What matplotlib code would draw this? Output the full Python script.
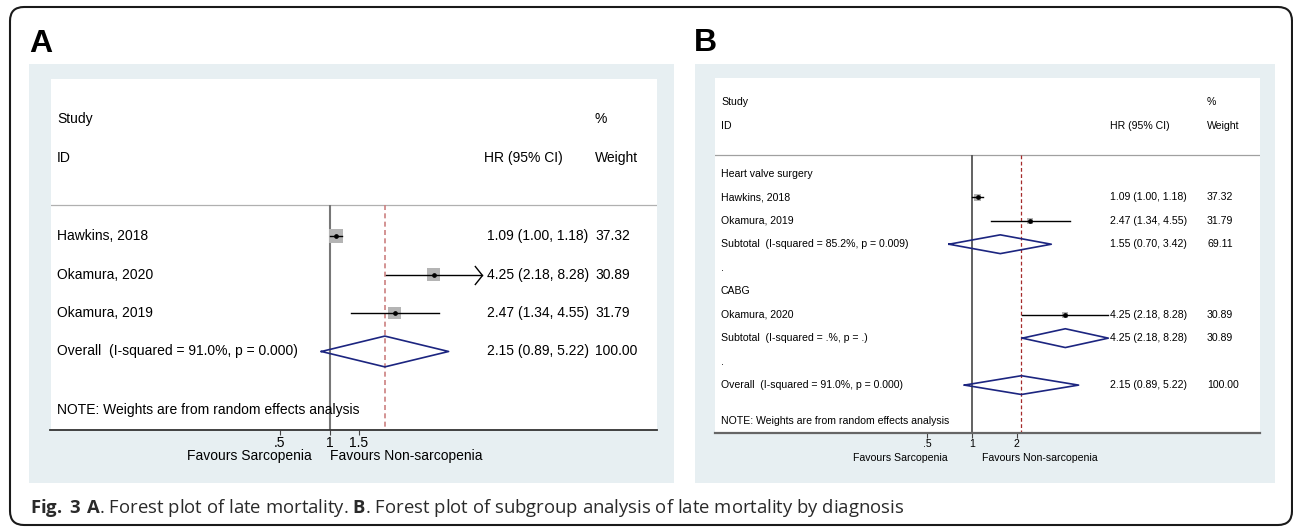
import matplotlib
matplotlib.use("Agg")
import matplotlib.pyplot as plt
import matplotlib.transforms as mtransforms
from matplotlib.patches import Rectangle, FancyBboxPatch
from matplotlib.path import Path
from matplotlib.ticker import NullLocator

plt.rcParams['font.family'] = ['Liberation Sans', 'DejaVu Sans']
plt.rcParams['mathtext.fontset'] = 'custom'
plt.rcParams['mathtext.rm'] = 'Open Sans'
plt.rcParams['mathtext.bf'] = 'Open Sans:bold'

W, H = 1293, 527

# A: late mortality
studies_a = ["Hawkins, 2018", "Okamura, 2020", "Okamura, 2019"]
hr_a = [1.09, 4.25, 2.47]
lo_a = [1.00, 2.18, 1.34]
hi_a = [1.18, 8.28, 4.55]
wt_a = [37.32, 30.89, 31.79]

# B: subgroups by diagnosis
groups_b = ["Heart valve surgery", "CABG"]
studies_b = [["Hawkins, 2018", "Okamura, 2019"], ["Okamura, 2020"]]
hr_b = [[1.09, 2.47], [4.25]]
lo_b = [[1.00, 1.34], [2.18]]
hi_b = [[1.18, 4.55], [8.28]]
wt_b = [[37.32, 31.79], [30.89]]
sub_hr = [1.55, 4.25]
sub_lo = [0.70, 2.18]
sub_hi = [3.42, 8.28]
sub_wt = [69.11, 30.89]
sub_i2 = ["85.2%", ".%"]
sub_p = ["0.009", "."]

overall_hr, overall_lo, overall_hi = 2.15, 0.89, 5.22
overall_i2, overall_p = "91.0%", "0.000"

xticks_a = [0.5, 1, 1.5]
xticklabels_a = [".5", "1", "1.5"]
xticks_b = [0.5, 1, 2]
xticklabels_b = [".5", "1", "2"]

fav_left = "Favours Sarcopenia"
fav_right = "Favours Non-sarcopenia"
note = "NOTE: Weights are from random effects analysis"
caption = (r"$\mathbf{Fig.}$ $\mathbf{3\ A}$. Forest plot of late mortality. $\mathbf{B}$. "
           "Forest plot of subgroup analysis of late mortality by diagnosis")


def px_rect(x0, y0, x1, y1):
    return [x0 / W, 1 - y1 / H, (x1 - x0) / W, (y1 - y0) / H]


def overall_row():
    label = "Overall  (I-squared = %s, p = %s)" % (overall_i2, overall_p)
    return ("pooled", label, overall_hr, overall_lo, overall_hi, 100.0)


def build_rows_a():
    rows = [("study", s, h, l, u, w) for s, h, l, u, w in zip(studies_a, hr_a, lo_a, hi_a, wt_a)]
    rows.append(overall_row())
    return rows


def build_rows_b():
    rows = []
    for g, name in enumerate(groups_b):
        rows.append(("head", name, None, None, None, None))
        for s, h, l, u, w in zip(studies_b[g], hr_b[g], lo_b[g], hi_b[g], wt_b[g]):
            rows.append(("study", s, h, l, u, w))
        label = "Subtotal  (I-squared = %s, p = %s)" % (sub_i2[g], sub_p[g])
        rows.append(("pooled", label, sub_hr[g], sub_lo[g], sub_hi[g], sub_wt[g]))
        rows.append(("dot", ".", None, None, None, None))
    rows.append(overall_row())
    return rows


chevron = Path([(-0.8, 1), (0, 0), (-0.8, -1)], [Path.MOVETO, Path.LINETO, Path.LINETO])


def forest(ax, rows, xlim, xticks, xticklabels, st):
    n = len(rows)
    ax.set_xscale('log')
    ax.set_xlim(*xlim)
    ax.set_ylim(n + 1.04, -4.08)
    ax.set_facecolor('white')
    for side in ['top', 'left', 'right']:
        ax.spines[side].set_visible(False)
    ax.spines['bottom'].set_color(st['axis_color'])
    ax.spines['bottom'].set_linewidth(st['axis_lw'])
    ax.set_yticks([])
    ax.set_xticks(xticks)
    ax.set_xticklabels(xticklabels)
    ax.xaxis.set_minor_locator(NullLocator())
    ax.tick_params(axis='x', labelsize=st['fs'], length=3.6, width=0.8,
                   color='#444444', pad=0.5)

    fs = st['fs']
    c_lab, c_hrh, c_hr, c_wt = st['cols']
    tr = mtransforms.blended_transform_factory(ax.transAxes, ax.transData)

    # header
    ax.text(c_lab, -3.05, "Study", transform=tr, fontsize=fs, va='center')
    ax.text(c_lab, -2.02, "ID", transform=tr, fontsize=fs, va='center')
    ax.text(c_wt, -3.05, "%", transform=tr, fontsize=fs, va='center')
    ax.text(c_hrh, -2.02, "HR (95% CI)", transform=tr, fontsize=fs, va='center')
    ax.text(c_wt, -2.02, "Weight", transform=tr, fontsize=fs, va='center')
    ax.axhline(-0.8, color=st['sep_color'], lw=0.9)

    bottom = n + 1.04
    ax.vlines(1, -0.8, bottom, color=st['null_color'], lw=st['null_lw'], zorder=2)
    ax.vlines(overall_hr, -0.8, bottom, color=st['dash_color'], lw=st['dash_lw'],
              linestyles=(0, (3, 2)), zorder=2)

    for i, (kind, label, h, l, u, w) in enumerate(rows):
        ax.text(c_lab, i, label, transform=tr, fontsize=fs, va='center')
        if kind == "study":
            ax.scatter([h], [i], marker='s', s=st['box_k'] * w, color='#b4b4b4',
                       edgecolor='none', zorder=3)
            ax.plot([l, u], [i, i], color='black', lw=1.0, zorder=4)
            ax.plot([h], [i], 'o', ms=2.4, color='black', zorder=5)
            if st['clip'] is not None and u > st['clip']:
                ax.plot([u], [i], marker=chevron, ms=13.7, mfc='none', mec='black',
                        mew=1.0, zorder=4)
        if kind == "pooled":
            ax.plot([l, h, u, h, l], [i, i - 0.4, i, i + 0.4, i], color='#1c2580',
                    lw=1.2, zorder=4)
        if kind in ("study", "pooled"):
            ax.text(c_hr, i, "%.2f (%.2f, %.2f)" % (h, l, u), transform=tr,
                    fontsize=fs, va='center')
            ax.text(c_wt, i, "%.2f" % w, transform=tr, fontsize=fs, va='center')

    ax.text(c_lab, n + 0.53, note, transform=tr, fontsize=fs, va='center')

    trf = mtransforms.blended_transform_factory(ax.transData, ax.transAxes)
    ax.text(st['fav_x'][0], st['fav_y'], fav_left, transform=trf, fontsize=fs,
            ha='right', va='center')
    ax.text(st['fav_x'][1], st['fav_y'], fav_right, transform=trf, fontsize=fs,
            ha='left', va='center')


fig = plt.figure(figsize=(W / 100, H / 100), dpi=100)

# outer frame
fig.patches.append(FancyBboxPatch((0.10, 0.02), 12.82, 5.18,
                                  boxstyle="round,pad=0,rounding_size=0.14",
                                  transform=fig.dpi_scale_trans, fill=False,
                                  edgecolor='#1a1a1a', lw=1.5, zorder=-1))

# panel backgrounds
bg = '#e7eff2'
for x0, x1 in [(29, 674), (695, 1275)]:
    r = px_rect(x0, 64, x1, 483)
    fig.patches.append(Rectangle((r[0], r[1]), r[2], r[3], transform=fig.transFigure,
                                 facecolor=bg, edgecolor='none', zorder=-2))

fig.text(29 / W, 1 - 44 / H, "A", fontsize=23, fontweight='bold', va='center')
fig.text(694 / W, 1 - 43 / H, "B", fontsize=23, fontweight='bold', va='center')

ax_a = fig.add_axes(px_rect(50.5, 79, 656.5, 430))
forest(ax_a, build_rows_a(), (0.02055, 94.1), xticks_a, xticklabels_a, {
    'fs': 10, 'cols': (0.0107, 0.7153, 0.7203, 0.8985), 'box_k': 2.72,
    'clip': 8.0, 'axis_color': '#333333', 'axis_lw': 1.3, 'sep_color': '#b0b0b0',
    'null_color': '#777777', 'null_lw': 1.5, 'dash_color': '#cc8080', 'dash_lw': 1.2,
    'fav_x': (0.777, 1.0), 'fav_y': -0.073})

ax_b = fig.add_axes(px_rect(715, 78, 1259.5, 433))
forest(ax_b, build_rows_b(), (0.01862, 86.2), xticks_b, xticklabels_b, {
    'fs': 7.55, 'cols': (0.011, 0.7254, 0.7254, 0.9036), 'box_k': 0.6,
    'clip': None, 'axis_color': '#666666', 'axis_lw': 1.6, 'sep_color': '#a0a0a0',
    'null_color': '#555555', 'null_lw': 1.3, 'dash_color': '#a52a2a', 'dash_lw': 0.9,
    'fav_x': (0.686, 1.16), 'fav_y': -0.071})

fig.text(30 / W, 1 - 508 / H, caption, fontsize=13.3, family='Open Sans',
         color='#2a2a2a', va='center')

fig.savefig("out.png", dpi=100)
